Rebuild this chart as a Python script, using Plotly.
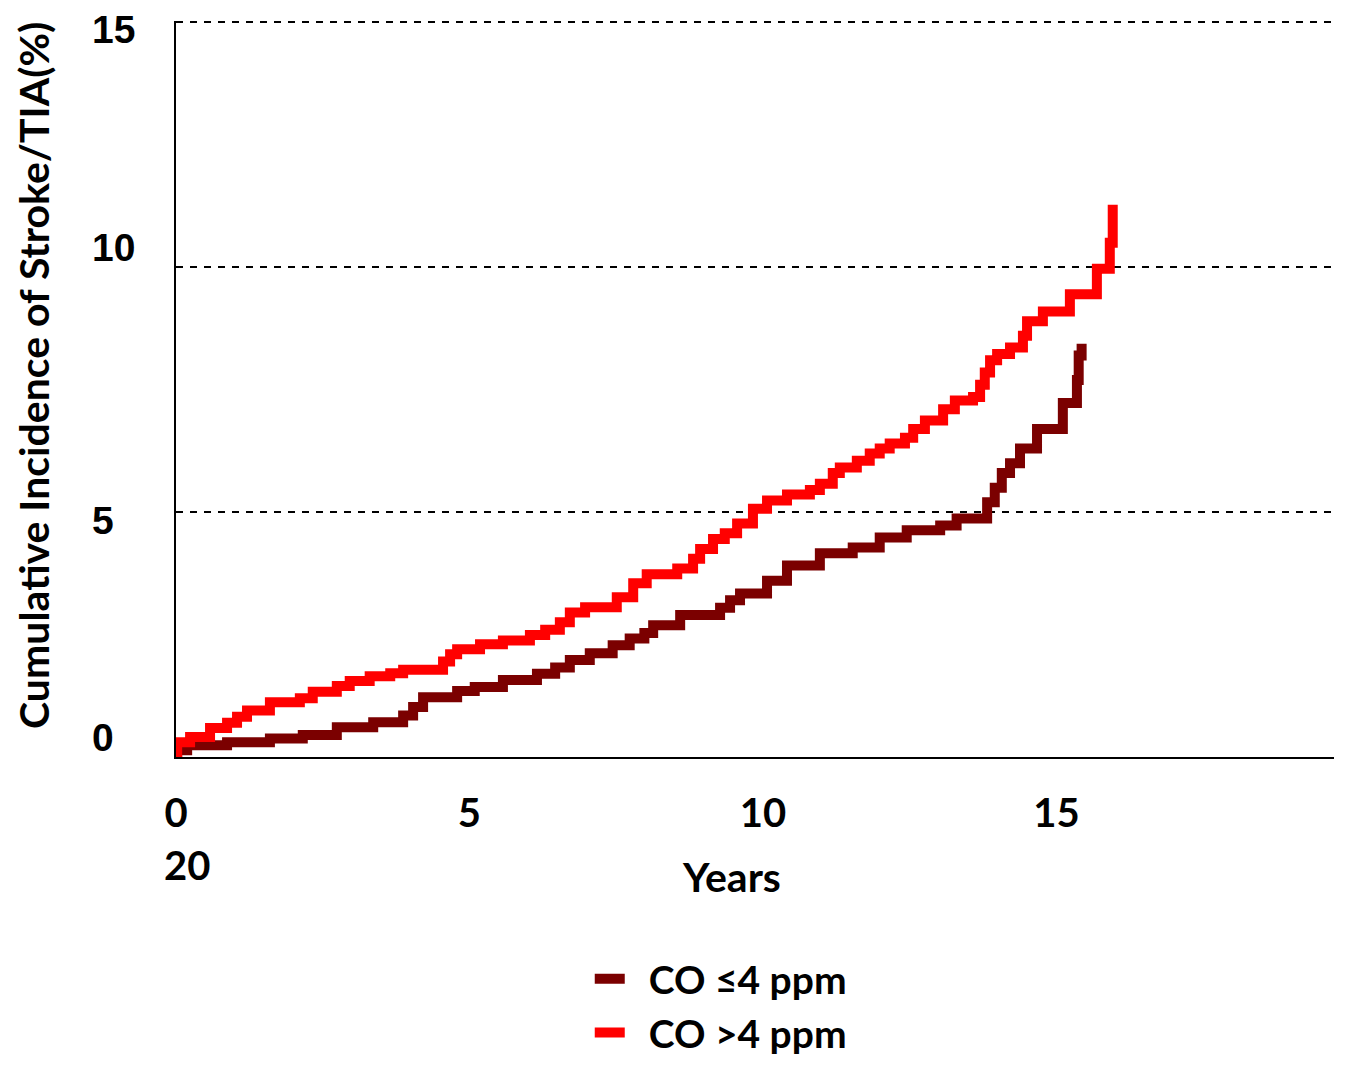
import plotly.graph_objects as go

# Years since baseline and cumulative incidence (%)
years_low = [0.00, 0.02, 0.19, 0.87, 1.60, 2.16, 2.74, 3.36, 3.87, 4.04, 4.21, 4.79, 5.09,
             5.57, 6.15, 6.46, 6.71, 7.05, 7.44, 7.73, 7.98, 8.13, 8.59, 9.27, 9.44, 9.61,
             10.07, 10.41, 10.97, 11.53, 11.99, 12.45, 13.02, 13.30, 13.82, 13.95, 14.07,
             14.21, 14.38, 14.67, 15.11, 15.35, 15.38, 15.43]
inc_low = [0.00, 0.14, 0.24, 0.30, 0.38, 0.45, 0.61, 0.71, 0.85, 1.02, 1.22, 1.35, 1.43,
           1.57, 1.70, 1.83, 1.98, 2.12, 2.28, 2.42, 2.53, 2.69, 2.90, 3.05, 3.20, 3.34,
           3.60, 3.91, 4.16, 4.28, 4.48, 4.63, 4.73, 4.87, 5.20, 5.50, 5.80,
           6.00, 6.30, 6.70, 7.23, 7.70, 8.20, 8.44]

years_high = [0.00, 0.02, 0.24, 0.58, 0.87, 1.04, 1.21, 1.60, 2.11, 2.33, 2.74, 2.96, 3.30,
              3.65, 3.87, 4.55, 4.67, 4.79, 5.18, 5.57, 6.03, 6.29, 6.54, 6.71, 6.97, 7.51,
              7.79, 8.02, 8.54, 8.81, 8.93, 9.15, 9.35, 9.56, 9.83, 10.07, 10.41, 10.80,
              10.97, 11.19, 11.31, 11.60, 11.82, 11.99, 12.16, 12.42, 12.56, 12.76, 13.07,
              13.27, 13.58, 13.70, 13.78, 13.87, 13.99, 14.21, 14.43, 14.50, 14.77, 15.23,
              15.69, 15.91, 15.96]
inc_high = [0.10, 0.30, 0.41, 0.59, 0.70, 0.82, 0.95, 1.12, 1.20, 1.33, 1.45, 1.55, 1.65,
            1.71, 1.78, 1.95, 2.10, 2.20, 2.30, 2.38, 2.49, 2.60, 2.75, 2.95, 3.06, 3.26,
            3.55, 3.73, 3.85, 4.05, 4.25, 4.45, 4.57, 4.77, 5.07, 5.24, 5.36, 5.45,
            5.58, 5.80, 5.91, 6.05, 6.20, 6.30, 6.40, 6.52, 6.70, 6.87, 7.10,
            7.28, 7.35, 7.60, 7.85, 8.10, 8.23, 8.36, 8.60, 8.90, 9.10, 9.45,
            9.97, 10.50, 11.28]

x_ticks = [0, 5, 10, 15]
y_ticks = [0, 5, 10, 15]
y_tick_labels = ["0", "5", "10", "15"]
series_names = ["CO \u22644 ppm", "CO >4 ppm"]

TEXT_FONT = "Lato"
TICK_FONT = "Liberation Sans"

# the original y labels sit a little off their gridlines
y_label_shift = [20, -8, 20, -7]

# small gap between the legend swatch and its text
gap = "\u00a0\u00a0"

fig = go.Figure()
fig.add_trace(go.Scatter(x=years_low, y=inc_low, mode="lines", name=gap + series_names[0],
                         line=dict(color="#7b0000", width=10, shape="hv")))
fig.add_trace(go.Scatter(x=years_high, y=inc_high, mode="lines", name=gap + series_names[1],
                         line=dict(color="#ff0000", width=10, shape="hv")))

annotations = [
    dict(text="Cumulative Incidence of Stroke/TIA(%)", textangle=-90,
         xref="paper", yref="paper", x=-0.1235, y=0.519,
         xanchor="center", yanchor="middle", showarrow=False,
         font=dict(family=TEXT_FONT, size=41, color="black", weight="bold")),
    dict(text="Years", xref="paper", yref="paper", x=0.48, y=-0.163,
         xanchor="center", yanchor="middle", showarrow=False,
         font=dict(family=TEXT_FONT, size=41, color="black", weight="bold")),
    dict(text="20", xref="paper", yref="paper", x=0.0095, y=-0.147,
         xanchor="center", yanchor="middle", showarrow=False,
         font=dict(family=TEXT_FONT, size=40, color="black", weight="bold")),
]
# y tick labels, left aligned like the original
for val, lab, dy in zip(y_ticks, y_tick_labels, y_label_shift):
    annotations.append(dict(text=lab, xref="paper", yref="y", x=-0.0743, y=val, yshift=dy,
                            xanchor="left", yanchor="middle", showarrow=False,
                            font=dict(family=TICK_FONT, size=39, color="black",
                                      weight="bold")))

# page body keeps its default 8px margin, so the figure is 16px smaller than the window
fig.update_layout(
    width=1330, height=1050,
    margin=dict(l=168, r=4, t=13, b=301, autoexpand=False),
    plot_bgcolor="white", paper_bgcolor="white",
    showlegend=True,
    legend=dict(x=0.3573, y=-0.258, xanchor="left", yanchor="top",
                font=dict(family=TEXT_FONT, size=39, color="black", weight="bold"),
                itemwidth=30, bgcolor="rgba(0,0,0,0)"),
    xaxis=dict(range=[0, 19.73], tickvals=x_ticks, showgrid=False, zeroline=False,
               showline=True, linecolor="black", linewidth=2, ticks="",
               automargin=False, ticklabelstandoff=20,
               tickfont=dict(family=TEXT_FONT, size=40, color="black", weight="bold")),
    yaxis=dict(range=[0, 15.03], tickvals=y_ticks, showticklabels=False,
               showgrid=True, gridcolor="black", gridwidth=2, griddash="7px,7px",
               zeroline=False, showline=True, linecolor="black", linewidth=2, ticks="",
               automargin=False),
    annotations=annotations,
)

fig.write_html("out.html")
